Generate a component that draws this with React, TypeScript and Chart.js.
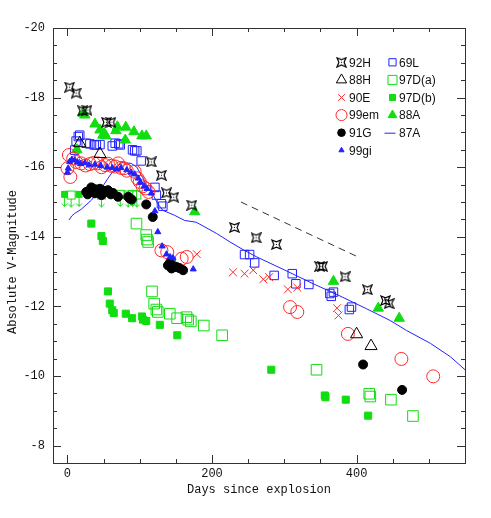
import React, { useEffect, useRef } from 'react';
import { Chart, registerables } from 'chart.js';
import { drawPoint } from 'chart.js/helpers';
Chart.register(...registerables);

const xRange = [-20, 550];
const yRange = [-20, -7.5];
const xTickLabels = [0, 200, 400];
const yTickLabels = [-20, -18, -16, -14, -12, -10, -8];
const xMinorStep = 50;
const yMinorStep = 0.5;

const sn92H = [[3,-18.3],[12,-18.13],[21,-17.62],[27,-17.64],[54,-17.29],[60,-17.29],[116,-16.15],[130,-15.77],[137,-15.26],[147,-15.14],[172,-14.91],[231,-14.27],[261,-13.97],[289,-13.78],[349,-13.15],[353,-13.15],[384,-12.85],[415,-12.48],[440,-12.17],[445,-12.08]];
const sn88H = [[17,-16.69],[45,-16.38],[400,-11.2],[420,-10.86]];
const sn90E = [[179,-13.5],[229,-12.98],[245,-12.94],[257,-13.04],[271,-12.78],[279,-12.84],[305,-12.49],[318,-12.54],[373,-11.95],[375,-11.74]];
const sn99em = [[0,-15.97],[2,-16.35],[4,-15.72],[8,-16.25],[12,-16.15],[19,-16.11],[25,-16.05],[31,-16.09],[36,-16.12],[42,-16.11],[47,-16.0],[52,-16.06],[56,-16.1],[61,-16.04],[66,-16.02],[70,-16.11],[74,-15.98],[78,-15.97],[82,-15.9],[93,-15.87],[97,-15.68],[100,-15.58],[104,-15.45],[108,-15.39],[112,-15.29],[130,-13.61],[138,-13.56],[158,-13.37],[165,-13.42],[308,-11.98],[318,-11.84],[388,-11.21],[462,-10.49],[506,-9.99]];
const sn91G = [[26,-15.29],[28,-15.22],[31,-15.34],[33,-15.42],[35,-15.39],[38,-15.25],[40,-15.36],[42,-15.3],[45,-15.38],[47,-15.2],[50,-15.32],[52,-15.29],[56,-15.34],[60,-15.22],[63,-15.26],[70,-15.15],[84,-15.15],[86,-15.1],[89,-15.07],[109,-14.93],[118,-14.57],[139,-13.18],[142,-13.26],[144,-13.09],[147,-13.15],[151,-13.13],[155,-13.1],[160,-13.04],[409,-10.33],[463,-9.6]];
const sn99gi = [[0,-15.85],[1,-15.97],[3,-16.16],[6,-16.22],[10,-16.2],[14,-16.14],[18,-16.1],[24,-16.12],[30,-16.06],[38,-16.08],[46,-16.04],[55,-16.0],[62,-15.98],[68,-15.94],[74,-15.98],[82,-15.92],[88,-15.85],[93,-15.8],[98,-15.68],[101,-15.56],[106,-15.45],[110,-15.38],[116,-15.25],[121,-14.74],[125,-14.14],[131,-13.73],[137,-13.5],[142,-13.42],[146,-13.39],[174,-13.07]];
const sn69L = [[10,-16.49],[12,-16.75],[15,-16.88],[17,-16.92],[26,-16.69],[31,-16.67],[37,-16.64],[40,-16.64],[45,-16.65],[62,-16.61],[66,-16.69],[71,-16.67],[73,-16.64],[90,-16.5],[93,-16.47],[96,-16.47],[102,-16.18],[121,-15.42],[123,-15.2],[130,-14.95],[132,-14.88],[245,-13.49],[252,-13.49],[259,-13.25],[286,-12.89],[311,-12.94],[316,-12.65],[334,-12.63],[363,-12.37],[365,-12.29],[368,-12.41],[390,-11.91],[393,-11.98]];
const sn97Da = [[95.5,-14.38],[109,-14.05],[110,-13.92],[111.6,-13.85],[117,-12.43],[120,-12.08],[123,-11.91],[125,-11.84],[141.6,-11.79],[151.7,-11.66],[164.7,-11.69],[167,-11.62],[170.7,-11.57],[188.6,-11.45],[214,-11.17],[344.6,-10.18],[417.5,-9.49],[419,-9.41],[447.5,-9.32],[478,-8.85]];
const sn97DaLimits = [[5,-15.2],[47,-15.2],[73,-15.22],[84,-15.2],[90,-15.22],[96,-15.2]];
const sn97Db = [[33,-14.38],[47,-14.02],[49,-13.88],[56,-12.43],[58.5,-12.08],[62,-11.89],[64,-11.81],[80.7,-11.79],[89.5,-11.66],[103,-11.71],[104.6,-11.62],[109,-11.58],[127.8,-11.47],[152,-11.17],[282,-10.18],[356,-9.44],[357,-9.39],[385,-9.32],[416,-8.86]];
const sn97DbLimits = [[-4,-15.22],[16,-15.22]];
const sn88A = [[13,-16.5],[21.6,-17.55],[24,-17.5],[38,-17.24],[45,-17.07],[49,-16.92],[51,-16.97],[53,-16.9],[67,-17.05],[69,-17.16],[80.7,-17.15],[80,-16.78],[92,-17.02],[103,-16.9],[109,-16.9],[176,-14.72],[368,-12.72],[430,-11.95],[459,-11.66]];
const sn87A = [[2,-14.48],[6,-14.6],[10,-14.67],[19,-14.79],[33,-15.05],[47,-15.39],[56,-15.68],[66,-15.97],[75,-16.13],[88,-16.11],[96,-16.0],[104,-15.7],[112,-15.38],[118,-15.22],[125,-14.95],[132,-14.76],[148,-14.62],[162,-14.47],[178,-14.42],[206,-14.1],[225,-13.85],[243,-13.63],[262,-13.42],[300,-13.05],[340,-12.65],[377,-12.3],[414,-11.93],[446,-11.6],[469,-11.31],[502,-10.94],[530,-10.55],[550,-10.18]];
const cobaltSlope = [[240,-15.0],[400,-13.44]];

const RED = '#ff2a2a';
const BLUE = '#2222ff';
const GREEN = '#11dd11';
const BLACK = '#000000';
const AXIS_FONT = '"Liberation Mono", monospace';
const LEGEND_FONT = '"Liberation Sans", Arial, sans-serif';

function makeStar(): HTMLCanvasElement {
  const c = document.createElement('canvas');
  c.width = 11; c.height = 11;
  const g = c.getContext('2d')!;
  g.strokeStyle = '#000'; g.lineWidth = 1.2;
  const cx = 5.5, cy = 5.5, r = 4.5, m = 2.6;
  g.beginPath();
  g.moveTo(cx - r, cy - r); g.lineTo(cx, cy - m); g.lineTo(cx + r, cy - r); g.lineTo(cx + m, cy);
  g.lineTo(cx + r, cy + r); g.lineTo(cx, cy + m); g.lineTo(cx - r, cy + r); g.lineTo(cx - m, cy);
  g.closePath(); g.stroke();
  g.fillStyle = '#000';
  g.fillRect(cx - 0.5, cy - 0.5, 1, 1);
  return c;
}

function makeLimit(filled: boolean): HTMLCanvasElement {
  const c = document.createElement('canvas');
  c.width = 13; c.height = 31;
  const g = c.getContext('2d')!;
  g.strokeStyle = GREEN; g.fillStyle = GREEN; g.lineWidth = 1;
  const s = filled ? 7 : 9;
  const cx = 6.5, cy = 15.5;
  if (filled) g.fillRect(cx - s / 2, cy - s / 2, s, s);
  else g.strokeRect(cx - s / 2 + 0.5, cy - s / 2 + 0.5, s - 1, s - 1);
  g.beginPath();
  g.moveTo(cx, cy + s / 2); g.lineTo(cx, cy + 12);
  g.moveTo(cx - 3, cy + 9); g.lineTo(cx, cy + 12); g.lineTo(cx + 3, cy + 9);
  g.stroke();
  return c;
}

const pts = (a: number[][]) => a.map(([x, y]) => ({ x, y }));

export default function App() {
  const ref = useRef<HTMLCanvasElement>(null);
  useEffect(() => {
    const star = makeStar();
    const limA = makeLimit(false);
    const limB = makeLimit(true);

    const styles: Record<string, any> = {
      '92H': { pointStyle: star, radius: 5, borderWidth: 1, fill: 'transparent', stroke: BLACK },
      '88H': { pointStyle: 'triangle', radius: 7, borderWidth: 1, fill: 'transparent', stroke: BLACK },
      '90E': { pointStyle: 'crossRot', radius: 5.5, borderWidth: 1, fill: 'transparent', stroke: RED },
      '99em': { pointStyle: 'circle', radius: 6.5, borderWidth: 1, fill: 'transparent', stroke: RED },
      '91G': { pointStyle: 'circle', radius: 4.5, borderWidth: 1, fill: BLACK, stroke: BLACK },
      '99gi': { pointStyle: 'triangle', radius: 3.5, borderWidth: 1, fill: BLUE, stroke: BLUE },
      '69L': { pointStyle: 'rect', radius: 6, borderWidth: 1, fill: 'transparent', stroke: BLUE },
      '97D(a)': { pointStyle: 'rect', radius: 7.5, borderWidth: 1, fill: 'transparent', stroke: GREEN },
      '97D(b)': { pointStyle: 'rect', radius: 5, borderWidth: 1, fill: GREEN, stroke: GREEN },
      '88A': { pointStyle: 'triangle', radius: 6, borderWidth: 1, fill: GREEN, stroke: GREEN },
    };

    const scatterDs = (label: string, data: number[][]) => {
      const s = styles[label];
      return {
        label, data: pts(data), showLine: false,
        pointStyle: s.pointStyle, pointRadius: s.radius, pointBorderWidth: s.borderWidth,
        pointBackgroundColor: s.fill, pointBorderColor: s.stroke,
      };
    };

    const datasets: any[] = [
      { label: '87A', data: pts(sn87A), showLine: true, borderColor: BLUE, borderWidth: 1, pointRadius: 0, tension: 0 },
      { label: 'slope', data: pts(cobaltSlope), showLine: true, borderColor: '#333', borderWidth: 1, borderDash: [7, 5], pointRadius: 0 },
      scatterDs('97D(a)', sn97Da),
      scatterDs('97D(b)', sn97Db),
      { label: '97D(a) lim', data: pts(sn97DaLimits), showLine: false, pointStyle: limA, pointRadius: 6 },
      { label: '97D(b) lim', data: pts(sn97DbLimits), showLine: false, pointStyle: limB, pointRadius: 6 },
      scatterDs('69L', sn69L),
      scatterDs('88A', sn88A),
      scatterDs('99em', sn99em),
      scatterDs('91G', sn91G),
      scatterDs('90E', sn90E),
      scatterDs('99gi', sn99gi),
      scatterDs('88H', sn88H),
      scatterDs('92H', sn92H),
    ].reverse();

    const col1 = ['92H', '88H', '90E', '99em', '91G', '99gi'];
    const col2 = ['69L', '97D(a)', '97D(b)', '88A', '87A'];

    const frame = {
      id: 'frame',
      afterDraw(chart: any) {
        const { ctx, chartArea: a, scales } = chart;
        const xs = scales.x, ys = scales.y;
        ctx.save();
        ctx.strokeStyle = '#333';
        ctx.lineWidth = 1;
        ctx.strokeRect(Math.round(a.left) + 0.5, Math.round(a.top) + 0.5, Math.round(a.right - a.left), Math.round(a.bottom - a.top));
        ctx.beginPath();
        for (let v = -50; v <= xRange[1]; v += xMinorStep) {
          if (v < xRange[0]) continue;
          const px = Math.round(xs.getPixelForValue(v)) + 0.5;
          const L = xTickLabels.includes(v) ? 8 : 4;
          ctx.moveTo(px, a.bottom); ctx.lineTo(px, a.bottom - L);
          ctx.moveTo(px, a.top); ctx.lineTo(px, a.top + L);
        }
        for (let v = yRange[0]; v <= yRange[1] + 1e-9; v += yMinorStep) {
          const py = Math.round(ys.getPixelForValue(v)) + 0.5;
          const L = yTickLabels.includes(v) ? 8 : 4;
          ctx.moveTo(a.left, py); ctx.lineTo(a.left + L, py);
          ctx.moveTo(a.right, py); ctx.lineTo(a.right - L, py);
        }
        ctx.stroke();

        ctx.fillStyle = '#111';
        ctx.font = '12px ' + AXIS_FONT;
        ctx.textAlign = 'center';
        ctx.textBaseline = 'middle';
        xTickLabels.forEach((v) => ctx.fillText(String(v), xs.getPixelForValue(v), a.bottom + 11));
        ctx.textAlign = 'right';
        yTickLabels.forEach((v) => ctx.fillText(String(v), a.left - 8, ys.getPixelForValue(v)));
        ctx.textAlign = 'center';
        ctx.fillText('Days since explosion', 259, 490);
        ctx.save();
        ctx.translate(13, 262);
        ctx.rotate(-Math.PI / 2);
        ctx.fillText('Absolute V-Magnitude', 0, 0);
        ctx.restore();

        // legend
        ctx.font = '12px ' + LEGEND_FONT;
        ctx.textAlign = 'left';
        const drawItem = (name: string, sx: number, tx: number, y: number) => {
          if (name === '87A') {
            ctx.strokeStyle = BLUE; ctx.lineWidth = 1;
            ctx.beginPath(); ctx.moveTo(sx - 8, y + 0.5); ctx.lineTo(sx + 3, y + 0.5); ctx.stroke();
          } else {
            const s = styles[name];
            ctx.fillStyle = s.fill; ctx.strokeStyle = s.stroke; ctx.lineWidth = s.borderWidth;
            drawPoint(ctx, { pointStyle: s.pointStyle, radius: s.radius * 0.85, borderWidth: s.borderWidth, rotation: 0 }, sx, y);
          }
          ctx.fillStyle = '#111';
          ctx.fillText(name, tx, y + 1);
        };
        col1.forEach((n, i) => drawItem(n, 341.5, 349, 62.3 + i * 17.6));
        col2.forEach((n, i) => drawItem(n, 392.5, 399, 62.3 + i * 17.6));
        ctx.restore();
      },
    };

    const chart = new Chart(ref.current!, {
      type: 'scatter',
      data: { datasets },
      options: {
        animation: false,
        responsive: false,
        devicePixelRatio: 1,
        layout: { padding: { left: 53, top: 28, right: 26, bottom: 55 } },
        plugins: { legend: { display: false }, tooltip: { enabled: false } },
        scales: {
          x: { type: 'linear', min: xRange[0], max: xRange[1], display: false },
          y: { type: 'linear', min: yRange[0], max: yRange[1], reverse: true, display: false },
        },
      },
      plugins: [frame],
    });
    return () => chart.destroy();
  }, []);

  return (
    <div style={{ position: 'absolute', left: 0, top: 0, width: 491, height: 518, background: '#fff' }}>
      <canvas ref={ref} width={491} height={518} style={{ width: 491, height: 518 }} />
    </div>
  );
}
